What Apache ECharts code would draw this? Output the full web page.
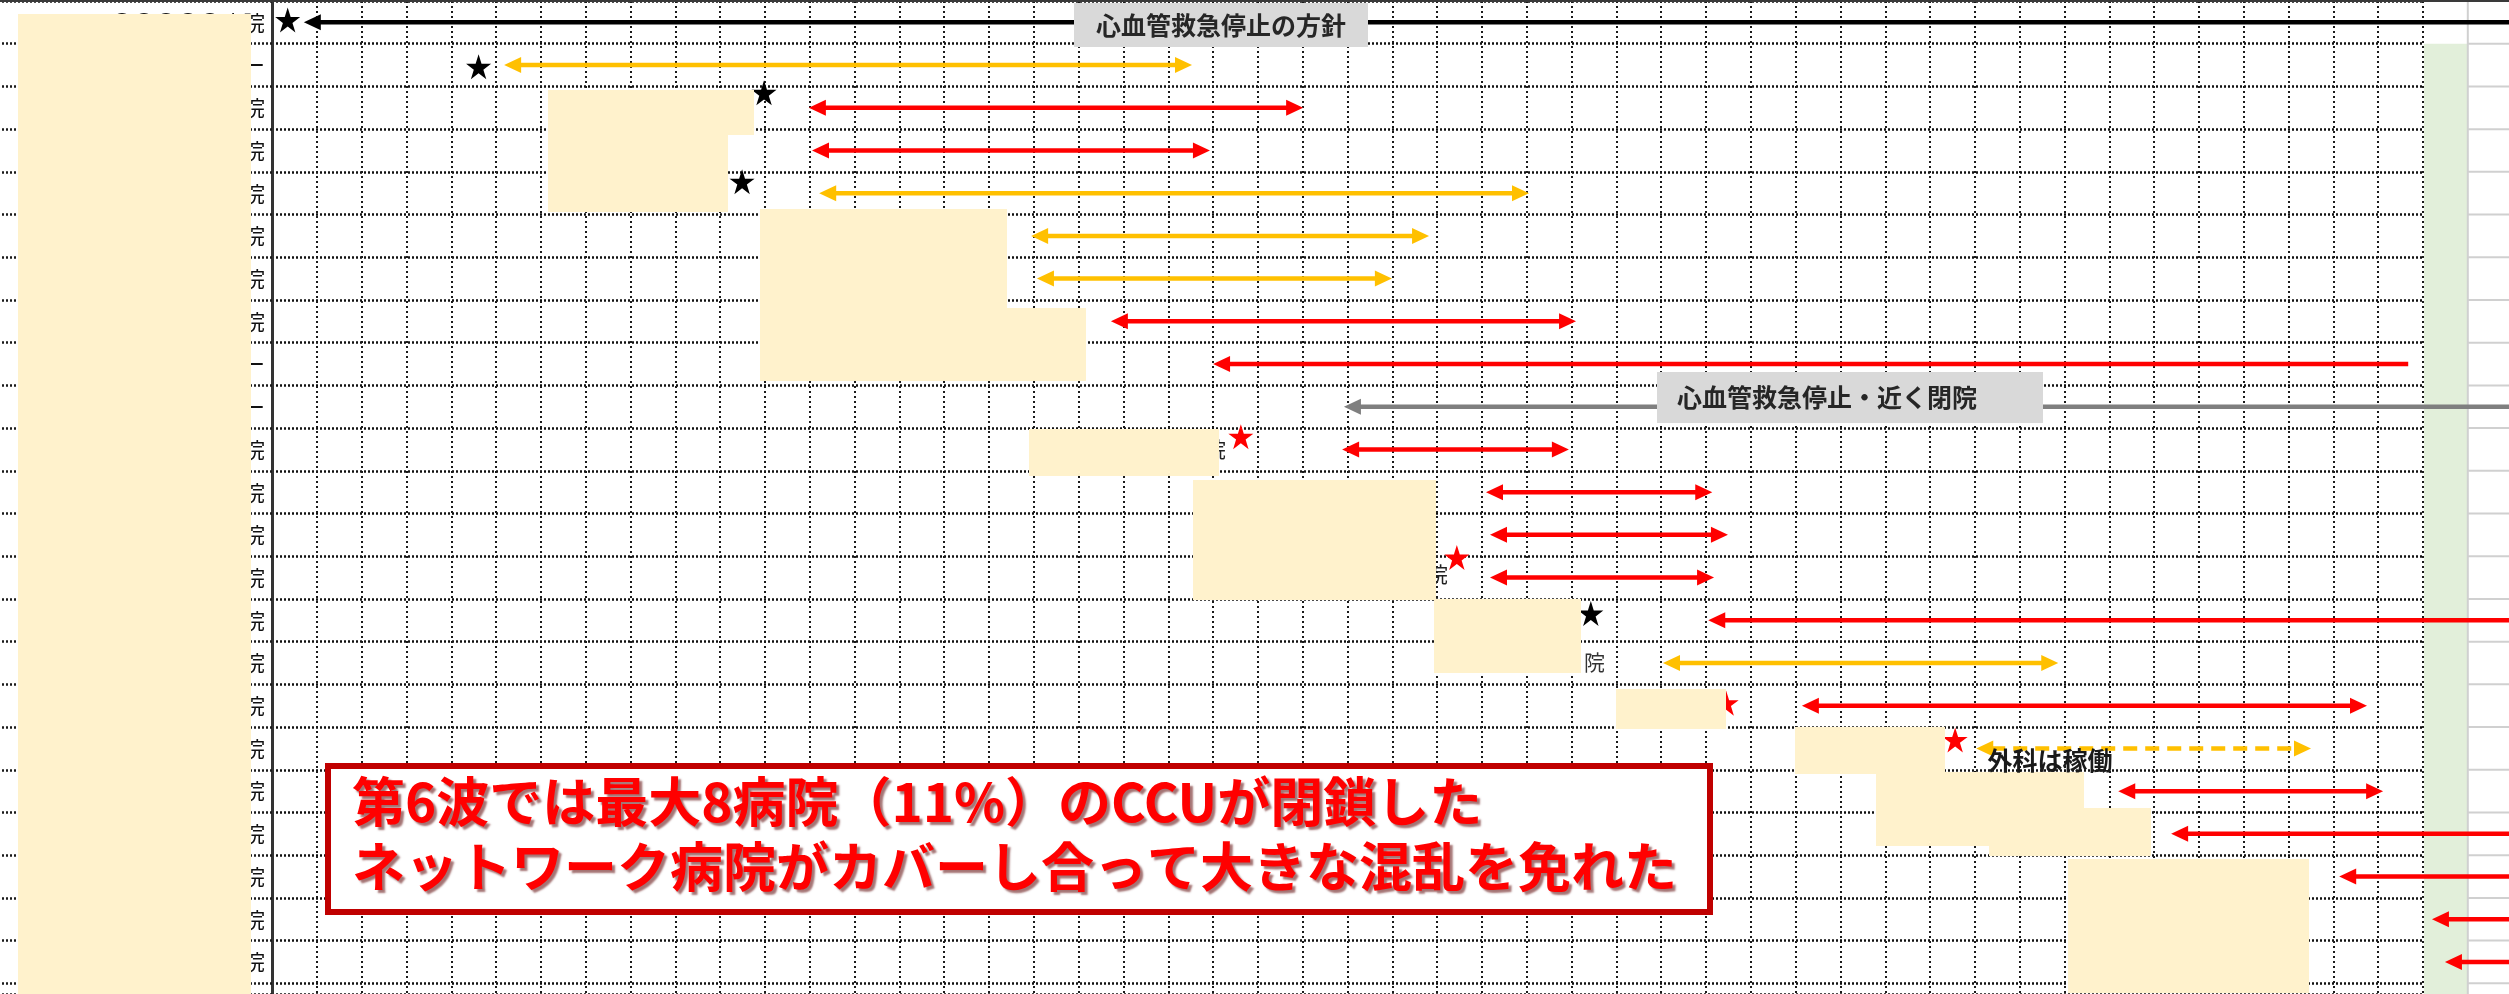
<!DOCTYPE html>
<html><head><meta charset="utf-8">
<script src="https://cdn.jsdelivr.net/npm/echarts@6/dist/echarts.min.js"></script>
<style>html,body{margin:0;padding:0;background:#fff;overflow:hidden}#c{width:2509px;height:994px}</style>
</head><body><div id="c"></div>
<script>
// ---- data (rows are 0-based from the top; x is in grid columns) ----
const hospitals = [
  '〇〇〇〇〇病院','〇〇〇〇センター','〇〇〇〇〇病院','〇〇〇〇〇病院','〇〇〇〇〇病院',
  '〇〇〇〇〇病院','〇〇〇〇〇病院','〇〇〇〇〇病院','〇〇〇〇センター','〇〇〇〇センター',
  '〇〇〇〇〇病院','〇〇〇〇〇病院','〇〇〇〇〇病院','〇〇〇〇〇病院','〇〇〇〇〇病院',
  '〇〇〇〇〇病院','〇〇〇〇〇病院','〇〇〇〇〇病院','〇〇〇〇〇病院','〇〇〇〇〇病院',
  '〇〇〇〇〇病院','〇〇〇〇〇病院','〇〇〇〇〇病院'
];
// stars: [x, y]
const blackStars = [[0.35,0.445],[4.61,1.54],[10.98,2.15],[10.49,4.23],[29.43,14.34]];
const redStars = [[21.62,10.2],[26.44,13.03],[32.45,16.44],[37.56,17.30]];
// arrows: [row, from, to, headAtFrom, headAtTo]
const blackArrows = [[0,0.71,51,1,0]];
const orangeArrows = [[1,5.18,20.53,1,1],[4,12.21,28.05,1,1],[5,16.94,25.82,1,1],[6,17.07,24.99,1,1],[15,31.04,39.86,1,1]];
const redArrows = [[2,11.98,23.01,1,1],[3,12.05,20.93,1,1],[7,18.72,29.1,1,1],[8,21.0,47.67,1,0],
  [10,23.88,28.94,1,1],[11,27.09,32.14,1,1],[12,27.18,32.49,1,1],[13,27.18,32.18,1,1],
  [14,32.05,51,1,0],[16,34.14,46.75,1,1],[18,41.2,47.11,1,1],[19,42.38,51,1,0],
  [20,46.13,51,1,0],[21,48.2,51,1,0],[22,48.49,51,1,0]];
const grayArrows = [[9,23.92,51,1,0]];
const dashedArrows = [[17,38.03,45.5,1,1]];
const noteTop = '心血管救急停止の方針';
const noteMid = '心血管救急停止・近く閉院';
const noteSurgery = '外科は稼働';
const calloutLines = ['第6波では最大8病院（11%）のCCUが閉鎖した','ネットワーク病院がカバーし合って大きな混乱を免れた'];

const FONT = '"Noto Sans CJK JP","Noto Sans CJK SC",sans-serif';
const STAR = 'path://M50,0 L61.2,34.5 L97.6,34.5 L68.2,55.9 L79.4,90.5 L50,69.1 L20.6,90.5 L31.8,55.9 L2.4,34.5 L38.8,34.5 Z';

function arrowSeries(name, data, color, dash) {
  return {
    type: 'custom', name, data, z: 3, clip: false,
    dimensions: ['row','from','to','ha','hb'],
    encode: {x: [1,2], y: 0},
    renderItem(params, api) {
      const row = api.value(0) + 0.5;
      const a = api.coord([api.value(1), row]);
      const b = api.coord([api.value(2), row]);
      const hA = api.value(3), hB = api.value(4);
      const L = 17, W = 8, y = a[1];
      const x1 = hA ? a[0] + L - 2 : a[0];
      const x2 = hB ? b[0] - L + 2 : b[0];
      const ch = [{type:'line', shape:{x1:x1, y1:y, x2:x2, y2:y},
        style:{stroke:color, lineWidth:4.5, lineDash: dash || null, fill:null}}];
      if (hA) ch.push({type:'polygon', shape:{points:[[a[0],y],[a[0]+L,y-W],[a[0]+L,y+W]]}, style:{fill:color}});
      if (hB) ch.push({type:'polygon', shape:{points:[[b[0],y],[b[0]-L,y-W],[b[0]-L,y+W]]}, style:{fill:color}});
      return {type:'group', children: ch};
    }
  };
}

const bandSeries = {
  type:'custom', name:'band', data:[[48,1]], z:1, clip:false,
  renderItem(params, api) {
    const p0 = api.coord([48, 1]), p1 = api.coord([49, 23.25]);
    const ch = [{type:'rect', shape:{x:p0[0]+1, y:p0[1], width:p1[0]-p0[0]-1, height:p1[1]-p0[1]}, style:{fill:'#E2EFDA'}}];
    ch.push({type:'line', shape:{x1:p1[0], y1:0, x2:p1[0], y2:p1[1]+5}, style:{stroke:'#D0D0D0', lineWidth:2}});
    for (let r = 1; r <= 23; r++) {
      const q = api.coord([49, r]);
      ch.push({type:'line', shape:{x1:q[0], y1:q[1], x2:q[0]+200, y2:q[1]}, style:{stroke:'#D0D0D0', lineWidth:2}});
    }
    return {type:'group', children: ch};
  }
};

function rect(x, y, w, h, fill, z) {
  return {type:'rect', z: z || 100, silent:true, shape:{x:x, y:y, width:w, height:h}, style:{fill:fill}};
}
function text(str, x, y, size, weight, color, align, z, extra) {
  return {type:'text', z: z || 101, silent:true,
    style: Object.assign({text:str, x:x, y:y, fill:color,
      font: weight + ' ' + size + 'px ' + FONT,
      align: align, textAlign: align, verticalAlign:'middle', textVerticalAlign:'middle'}, extra || {})};
}

const CREAM = '#FFF2CC';
const SHADOW = {textShadowColor:'rgba(90,0,0,0.55)', textShadowBlur:2, textShadowOffsetX:3, textShadowOffsetY:3};
const graphics = [
  rect(0, 0, 2509, 2, '#3a3a3a', 90),
  text('院', 1226, 449, 21, 'normal', '#222', 'right', 99),
  text('院', 1448, 574, 21, 'normal', '#222', 'right', 99),
  text('院', 1584, 662, 21, 'normal', '#333', 'left', 99),
  rect(18, 14, 233, 980, CREAM),
  rect(548, 90, 206, 45, CREAM),
  rect(548, 135, 180, 77, CREAM),
  rect(760, 209, 247, 99, CREAM),
  rect(760, 308, 326, 73, CREAM),
  rect(1029, 429, 190, 47, CREAM),
  rect(1193, 480, 243, 120, CREAM),
  rect(1434, 599, 147, 74, CREAM),
  rect(1616, 689, 110, 40, CREAM),
  rect(1795, 727, 150, 47, CREAM),
  rect(1876, 772, 208, 74, CREAM),
  rect(1989, 808, 162, 48, CREAM),
  rect(2068, 859, 241, 134, CREAM),
  rect(1074, 3, 294, 44, '#D9D9D9', 102),
  text(noteTop, 1221, 25, 25, 'bold', '#262626', 'center', 103),
  rect(1657, 372, 386, 51, '#D9D9D9', 102),
  text(noteMid, 1677, 397, 25, 'bold', '#262626', 'left', 103),
  text(noteSurgery, 2050, 760, 25, 'bold', '#1a1a1a', 'center', 103),
  {type:'rect', z:110, silent:true, shape:{x:328, y:766, width:1382, height:146},
    style:{fill:'#ffffff', stroke:'#C00000', lineWidth:6}},
  text(calloutLines[0], 352, 802, 53, 'bold', '#FF0000', 'left', 111, SHADOW),
  text(calloutLines[1], 352, 867, 53, 'bold', '#FF0000', 'left', 111, SHADOW)
];

const chart = echarts.init(document.getElementById('c'), null, {renderer:'canvas'});
chart.setOption({
  animation: false,
  backgroundColor: '#ffffff',
  grid: {left: 272, top: 1, width: 2151, height: 993, containLabel: false},
  xAxis: {type:'value', min:0, max:48, interval:1,
    axisLine:{show:false}, axisTick:{show:false}, axisLabel:{show:false},
    splitLine:{show:true, lineStyle:{color:'#1a1a1a', width:2, type:[2,3]}}},
  yAxis: [
    {type:'value', inverse:true, min:0, max:23.25, interval:1,
      axisLine:{show:true, onZero:false, lineStyle:{color:'#333', width:3}},
      axisTick:{show:true, length:272, lineStyle:{color:'#1a1a1a', width:2.5, type:[2,2]}},
      axisLabel:{show:false},
      splitLine:{show:true, lineStyle:{color:'#111', width:2.5, type:[2,2]}}},
    {type:'value', inverse:true, min:0, max:23.25, interval:0.5, position:'left',
      axisLine:{show:false}, axisTick:{show:false}, splitLine:{show:false},
      axisLabel:{show:true, margin:7, fontSize:22, color:'#111', fontFamily:FONT,
        formatter: function (v) {
          const k = Math.floor(v);
          return Math.abs(v - k - 0.5) < 1e-6 && hospitals[k] ? hospitals[k] : '';
        }}}
  ],
  series: [
    bandSeries,
    arrowSeries('black', blackArrows, '#000000'),
    arrowSeries('gray', grayArrows, '#7F7F7F'),
    arrowSeries('orange', orangeArrows, '#FFC000'),
    arrowSeries('dashed', dashedArrows, '#FFC000', [14, 8]),
    arrowSeries('red', redArrows, '#FF0000'),
    {type:'scatter', name:'blackStar', data: blackStars, symbol: STAR, symbolSize: 25, z: 5,
      itemStyle:{color:'#000000', opacity:1}},
    {type:'scatter', name:'redStar', data: redStars, symbol: STAR, symbolSize: 25, z: 5,
      itemStyle:{color:'#FF0000', opacity:1}}
  ],
  graphic: graphics
});
</script>
</body></html>
